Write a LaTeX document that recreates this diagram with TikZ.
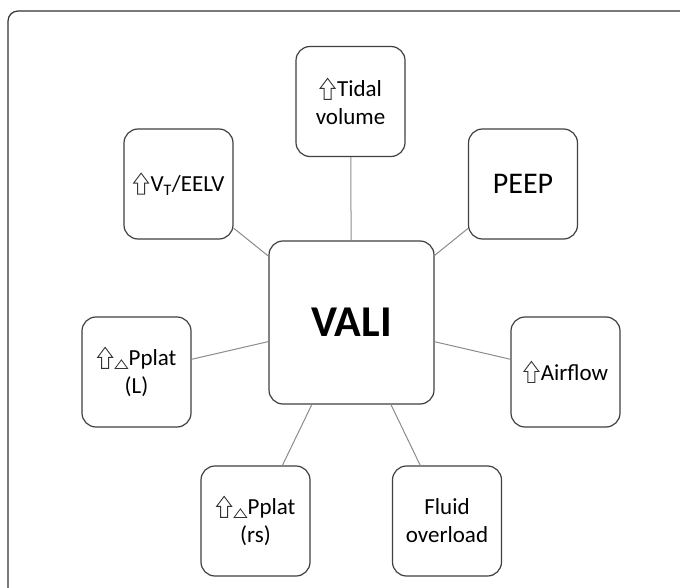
\documentclass[tikz,border=0pt]{standalone}
\usepackage{fontspec}
\setmainfont{Carlito}
\newcommand{\uparr}{\begin{pgfpicture}%
  \pgfsetcornersarced{\pgfpointorigin}%
  \pgfpathrectangle{\pgfpoint{-1pt}{-3pt}}{\pgfpoint{18pt}{22pt}}\pgfusepath{use as bounding box}%
  \pgfsetbaseline{0pt}%
  \pgfsetlinewidth{0.9pt}\pgfsetstrokecolor{black!80}\pgfsetmiterjoin
  \pgfpathmoveto{\pgfpoint{4pt}{-2.5pt}}%
  \pgfpathlineto{\pgfpoint{11pt}{-2.5pt}}%
  \pgfpathlineto{\pgfpoint{11pt}{8.5pt}}%
  \pgfpathlineto{\pgfpoint{15pt}{8.5pt}}%
  \pgfpathlineto{\pgfpoint{7.5pt}{18.5pt}}%
  \pgfpathlineto{\pgfpoint{0pt}{8.5pt}}%
  \pgfpathlineto{\pgfpoint{4pt}{8.5pt}}%
  \pgfpathclose
  \pgfusepath{stroke}%
\end{pgfpicture}}
\newcommand{\tri}{\begin{pgfpicture}%
  \pgfsetcornersarced{\pgfpointorigin}%
  \pgfpathrectangle{\pgfpoint{-0.5pt}{-3pt}}{\pgfpoint{14pt}{10pt}}\pgfusepath{use as bounding box}%
  \pgfsetbaseline{0pt}%
  \pgfsetlinewidth{0.8pt}\pgfsetstrokecolor{black!80}\pgfsetmiterjoin
  \pgfpathmoveto{\pgfpoint{0pt}{-2.5pt}}%
  \pgfpathlineto{\pgfpoint{12.5pt}{-2.5pt}}%
  \pgfpathlineto{\pgfpoint{6.25pt}{6pt}}%
  \pgfpathclose
  \pgfusepath{stroke}%
\end{pgfpicture}}
\begin{document}
\begin{tikzpicture}[x=1pt,y=-1pt,
  box/.style={draw=black!75, line width=1.2pt, rounded corners=14pt, inner sep=0pt,
    minimum width=109pt, minimum height=110pt, align=center,
    font=\fontsize{23}{28}\selectfont},
  link/.style={draw=black!45, line width=1pt}]
\useasboundingbox (0,0) rectangle (680,588);
\fill[white] (0,0) rectangle (680,588);
\draw[black!80, line width=1.2pt, rounded corners=10pt] (8,11) -- (700,11) -- (700,610) -- (8,610) -- cycle;
\node[box, minimum width=165pt, minimum height=163pt, font=\fontsize{44}{44}\selectfont\bfseries] (vali) at (351.5,322.5) {VALI};
\node[box] (tidal) at (350.5,101.5) {\uparr Tidal\\volume};
\node[box] (vt) at (178.5,184) {\uparr V\textsubscript{T}/EELV};
\node[box, font=\fontsize{30}{30}\selectfont] (peep) at (523,184) {PEEP};
\node[box] (ppl) at (136.5,372) {\uparr\tri Pplat\\(L)};
\node[box] (air) at (565.5,372) {\uparr Airflow};
\node[box] (prs) at (255.5,521) {\uparr\tri Pplat\\(rs)};
\node[box] (fluid) at (447,521) {Fluid\\overload};
\draw[link] (tidal) -- (vali);
\draw[link] (vt) -- (vali);
\draw[link] (peep) -- (vali);
\draw[link] (ppl) -- (vali);
\draw[link] (air) -- (vali);
\draw[link] (prs) -- (vali);
\draw[link] (fluid) -- (vali);
\end{tikzpicture}
\end{document}
